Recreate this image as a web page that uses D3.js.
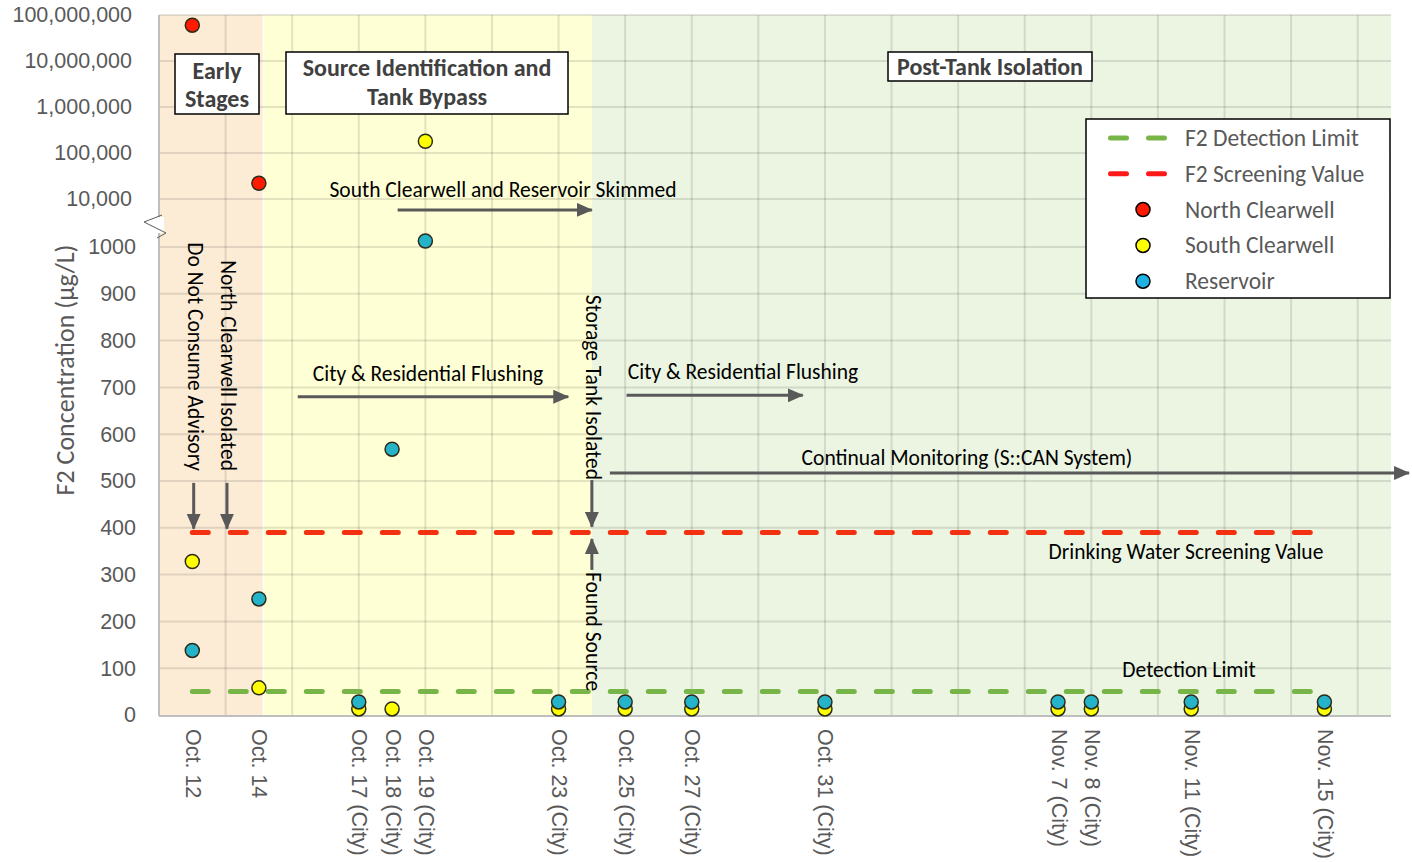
<!DOCTYPE html>
<html>
<head>
<meta charset="utf-8">
<script src="https://cdn.jsdelivr.net/npm/d3@7"></script>
<style>
  body { margin: 0; background: #fff; }
  svg { display: block; font-family: Carlito, Calibri, Lato, sans-serif; }
</style>
</head>
<body>
<svg id="chart" width="1412" height="862"></svg>
<script>
// ---- data -------------------------------------------------------------
const sampleDates = ["2019-10-12", "2019-10-14", "2019-10-17", "2019-10-18", "2019-10-19",
                     "2019-10-23", "2019-10-25", "2019-10-27", "2019-10-31", "2019-11-07",
                     "2019-11-08", "2019-11-11", "2019-11-15"];
const tickLabels = ["Oct. 12", "Oct. 14", "Oct. 17 (City)", "Oct. 18 (City)", "Oct. 19 (City)",
                    "Oct. 23 (City)", "Oct. 25 (City)", "Oct. 27 (City)", "Oct. 31 (City)",
                    "Nov. 7 (City)", "Nov. 8 (City)", "Nov. 11 (City)", "Nov. 15 (City)"];
const northClearwell = [60000000, 22000, null, null, null, null, null, null, null, null, null, null, null];
const southClearwell = [328, 58, 13, 13, 180000, 13, 13, 13, 13, 13, 13, 13, 13];
const reservoir      = [138, 248, 28, 568, 1220, 28, 28, 28, 28, 28, 28, 28, 28];

const detectionLimit = 50;
const screeningValue = 390;
const refStart = "2019-10-12", refEnd = "2019-11-15";

const linTicks = [0, 100, 200, 300, 400, 500, 600, 700, 800, 900, 1000];
const logTicks = [1e4, 1e5, 1e6, 1e7, 1e8];

const phaseNames  = ["Early Stages", "Source Identification", "Post-Tank Isolation"];
const phaseStarts = ["2019-10-11T00:00", "2019-10-14T03:00", "2019-10-24T00:00"];
const phaseEnds   = ["2019-10-14T03:00", "2019-10-24T00:00", "2019-11-17T00:00"];

// ---- setup ------------------------------------------------------------
const svg = d3.select("#chart");
const parse = s => new Date(s.length > 10 ? s + ":00Z" : s + "T00:00:00Z");
const m = { left: 159, right: 1391, top: 15, bottom: 715 };

const x = d3.scaleUtc()
  .domain([parse("2019-10-11"), parse("2019-11-17")])
  .range([m.left, m.right]);

// broken y axis: linear 0-1000, log above
const yLin = d3.scaleLinear().domain([0, 1000]).range([m.bottom, 247]);
const yLog = d3.scaleLog().domain([1e4, 1e8]).range([199, m.top]);
const y = v => v <= 1000 ? yLin(v) : yLog(v);

const grey = "#595959";
const noteSize = "21.5px";
const phaseColors = ["#fcecd6", "#ffffd5", "#ebf5e1"];

// phase backgrounds
svg.append("g").selectAll("rect")
  .data(phaseNames)
  .join("rect")
  .attr("x", (_, i) => x(parse(phaseStarts[i])))
  .attr("y", m.top)
  .attr("width", (_, i) => x(parse(phaseEnds[i])) - x(parse(phaseStarts[i])))
  .attr("height", m.bottom - m.top)
  .attr("fill", (_, i) => phaseColors[i]);

svg.append("line")
  .attr("x1", x(parse(phaseStarts[1]))).attr("x2", x(parse(phaseStarts[1])))
  .attr("y1", m.top).attr("y2", m.bottom)
  .attr("stroke", "#fff").attr("stroke-width", 1);

// grid
const grid = svg.append("g").attr("stroke", "#000").attr("stroke-opacity", 0.11).attr("stroke-width", 2);
const gridDays = d3.range(2, 37, 2).map(d => d3.utcDay.offset(parse("2019-10-11"), d));
grid.selectAll("line.v").data(gridDays).join("line").attr("class", "v")
  .attr("x1", d => x(d)).attr("x2", d => x(d))
  .attr("y1", m.top).attr("y2", m.bottom);
grid.selectAll("line.h").data(linTicks.slice(1).concat(logTicks)).join("line").attr("class", "h")
  .attr("x1", m.left).attr("x2", m.right)
  .attr("y1", d => y(d)).attr("y2", d => y(d));

// axes
const yAxisLin = d3.axisLeft(yLin).tickValues(linTicks).tickFormat(d3.format("d")).tickSize(0).tickPadding(23);
const yAxisLog = d3.axisLeft(yLog).tickValues(logTicks).tickFormat(d3.format(",")).tickSize(0).tickPadding(27);
[yAxisLin, yAxisLog].forEach(ax => {
  const g = svg.append("g").attr("transform", `translate(${m.left},0)`).call(ax);
  g.select(".domain").remove();
  g.selectAll("text").attr("fill", grey).style("font-size", "21.5px").style("font-family", "inherit");
});

const xAxis = d3.axisBottom(x)
  .tickValues(sampleDates.map(parse))
  .tickFormat((d, i) => tickLabels[i])
  .tickSize(0);
const gx = svg.append("g").attr("transform", `translate(0,${m.bottom})`).call(xAxis);
gx.select(".domain").remove();
gx.selectAll("text")
  .attr("fill", grey)
  .style("font-size", "21.5px").style("font-family", "inherit")
  .attr("text-anchor", "start")
  .attr("dy", null).attr("y", null)
  .attr("dominant-baseline", "central")
  .attr("transform", "translate(0,14) rotate(90)");

// axis lines
svg.append("line").attr("x1", m.left).attr("x2", m.left).attr("y1", m.top).attr("y2", m.bottom + 1)
  .attr("stroke", "#bfbfbf").attr("stroke-width", 2);
svg.append("line").attr("x1", m.left).attr("x2", m.right).attr("y1", m.bottom + 1).attr("y2", m.bottom + 1)
  .attr("stroke", "#bfbfbf").attr("stroke-width", 2);

// axis break
svg.append("rect").attr("x", 154).attr("y", 217).attr("width", 10).attr("height", 16).attr("fill", "#fff");
svg.append("path").attr("d", "M162,215 L144,222 L166,233 L157,238")
  .attr("fill", "none").attr("stroke", grey).attr("stroke-width", 1);

// y title
svg.append("text")
  .attr("transform", "translate(65,370) rotate(-90)")
  .attr("text-anchor", "middle").attr("dominant-baseline", "central")
  .attr("fill", grey).style("font-size", "26px")
  .text("F2 Concentration (µg/L)");

// reference lines
const refs = [
  { v: screeningValue, color: "#f3300f" },
  { v: detectionLimit, color: "#78b548" }
];
svg.append("g").selectAll("line").data(refs).join("line")
  .attr("x1", x(parse(refStart))).attr("x2", x(parse(refEnd)))
  .attr("y1", d => y(d.v)).attr("y2", d => y(d.v))
  .attr("stroke", d => d.color).attr("stroke-width", 5)
  .attr("stroke-linecap", "round").attr("stroke-dasharray", "16 22");

svg.append("text").attr("x", 1186).attr("y", y(screeningValue) + 20)
  .attr("text-anchor", "middle").attr("dominant-baseline", "central")
  .style("font-size", noteSize).text("Drinking Water Screening Value");
svg.append("text").attr("x", 1189).attr("y", y(detectionLimit) - 22)
  .attr("text-anchor", "middle").attr("dominant-baseline", "central")
  .style("font-size", noteSize).text("Detection Limit");

// arrows
svg.append("defs").append("marker")
  .attr("id", "head").attr("markerUnits", "userSpaceOnUse")
  .attr("viewBox", "0 0 16 14").attr("refX", 15).attr("refY", 7)
  .attr("markerWidth", 16).attr("markerHeight", 14).attr("orient", "auto")
  .append("path").attr("d", "M0,0 L16,7 L0,14 Z").attr("fill", grey);

const arrows = [
  { x1: "2019-10-12T01:00", x2: "2019-10-12T01:00", y1: 496, y2: 398 },
  { x1: "2019-10-13T01:00", x2: "2019-10-13T01:00", y1: 496, y2: 398 },
  { x1: "2019-10-24T00:00", x2: "2019-10-24T00:00", y1: 502, y2: 402 },
  { x1: "2019-10-24T00:00", x2: "2019-10-24T00:00", y1: 310, y2: 376 },
  { x1: "2019-10-18T04:00", x2: "2019-10-24T00:00", y1: 5800, y2: 5800 },
  { x1: "2019-10-15T04:00", x2: "2019-10-23T07:00", y1: 680, y2: 680 },
  { x1: "2019-10-25T01:00", x2: "2019-10-30T08:00", y1: 683, y2: 683 },
  { x1: "2019-10-24T13:00", x2: "2019-11-17T13:00", y1: 517, y2: 517 }
];
svg.append("g").selectAll("line").data(arrows).join("line")
  .attr("x1", d => x(parse(d.x1))).attr("x2", d => x(parse(d.x2)))
  .attr("y1", d => y(d.y1)).attr("y2", d => y(d.y2))
  .attr("stroke", grey).attr("stroke-width", 3)
  .attr("marker-end", "url(#head)");

// horizontal annotation text
const notes = [
  { t: "South Clearwell and Reservoir Skimmed", cx: 503, cy: 190 },
  { t: "City & Residential Flushing", cx: 428, cy: 374 },
  { t: "City & Residential Flushing", cx: 743, cy: 372 },
  { t: "Continual Monitoring (S::CAN System)", cx: 967, cy: 458 }
];
svg.append("g").selectAll("text").data(notes).join("text")
  .attr("x", d => d.cx).attr("y", d => d.cy)
  .attr("text-anchor", "middle").attr("dominant-baseline", "central")
  .style("font-size", noteSize).text(d => d.t);

// vertical annotation text
const vnotes = [
  { t: "Do Not Consume Advisory", cx: 195, y: 471, anchor: "end" },
  { t: "North Clearwell Isolated", cx: 228, y: 471, anchor: "end" },
  { t: "Storage Tank Isolated", cx: 593, y: 480, anchor: "end" },
  { t: "Found Source", cx: 593, y: 572, anchor: "start" }
];
svg.append("g").selectAll("text").data(vnotes).join("text")
  .attr("transform", d => `translate(${d.cx},${d.y}) rotate(90)`)
  .attr("text-anchor", d => d.anchor).attr("dominant-baseline", "central")
  .style("font-size", noteSize).text(d => d.t);

// phase title boxes
const boxes = [
  { lines: ["Early", "Stages"], ys: [70, 98], x0: 175, x1: 259, y0: 54, y1: 114 },
  { lines: ["Source Identification and", "Tank Bypass"], ys: [67, 96], x0: 286, x1: 568, y0: 52, y1: 114 },
  { lines: ["Post-Tank Isolation"], ys: [66], x0: 888, x1: 1092, y0: 52, y1: 81 }
];
const bg = svg.append("g").selectAll("g").data(boxes).join("g");
bg.append("rect")
  .attr("x", d => d.x0).attr("y", d => d.y0)
  .attr("width", d => d.x1 - d.x0).attr("height", d => d.y1 - d.y0)
  .attr("fill", "#fff").attr("stroke", "#000").attr("stroke-width", 1.5);
bg.each(function (d) {
  const g = d3.select(this);
  d.lines.forEach((l, i) => {
    g.append("text")
      .attr("x", (d.x0 + d.x1) / 2).attr("y", d.ys[i])
      .attr("text-anchor", "middle").attr("dominant-baseline", "central")
      .attr("fill", "#404040").style("font-size", "24px").style("font-weight", "bold")
      .text(l);
  });
});

// points
const series = [
  { name: "North Clearwell", values: northClearwell, color: "#ff1a00" },
  { name: "South Clearwell", values: southClearwell, color: "#ffff00" },
  { name: "Reservoir",       values: reservoir,      color: "#25b3c9" }
];
series.forEach(s => {
  svg.append("g").selectAll("circle")
    .data(sampleDates.map((d, i) => ({ d: parse(d), v: s.values[i] })).filter(p => p.v != null))
    .join("circle")
    .attr("cx", p => x(p.d)).attr("cy", p => y(p.v)).attr("r", 7)
    .attr("fill", s.color).attr("stroke", "#2b2b1a").attr("stroke-width", 1.5);
});

// legend
const lg = svg.append("g").attr("transform", "translate(1086,119)");
lg.append("rect").attr("width", 304).attr("height", 179)
  .attr("fill", "#fff").attr("stroke", "#000").attr("stroke-width", 1.5);
const legendItems = [
  { label: "F2 Detection Limit", type: "line", color: "#78b548" },
  { label: "F2 Screening Value", type: "line", color: "#ff1a1a" },
  { label: "North Clearwell", type: "dot", color: "#ff1a00" },
  { label: "South Clearwell", type: "dot", color: "#ffff00" },
  { label: "Reservoir", type: "dot", color: "#1eb2e4" }
];
const li = lg.selectAll("g").data(legendItems).join("g")
  .attr("transform", (_, i) => `translate(0,${19 + i * 35.8})`);
li.filter(d => d.type === "line").append("line")
  .attr("x1", 24.5).attr("x2", 81).attr("y1", 0).attr("y2", 0)
  .attr("stroke", d => d.color).attr("stroke-width", 5)
  .attr("stroke-linecap", "round").attr("stroke-dasharray", "16 22");
li.filter(d => d.type === "dot").append("circle")
  .attr("cx", 57).attr("cy", 0).attr("r", 7)
  .attr("fill", d => d.color).attr("stroke", "#000").attr("stroke-width", 1.5);
li.append("text").attr("x", 99).attr("y", 0)
  .attr("dominant-baseline", "central").attr("fill", grey)
  .style("font-size", "23.5px").text(d => d.label);
</script>
</body>
</html>
